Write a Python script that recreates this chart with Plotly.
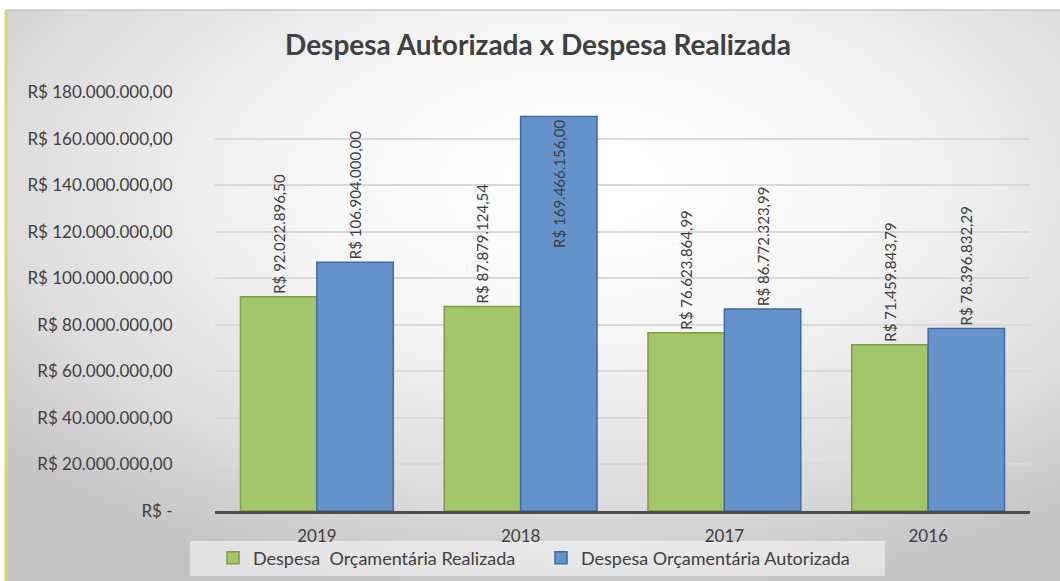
import base64
import plotly.graph_objects as go

# ---- data ----
years = ["2019", "2018", "2017", "2016"]
realizada = [92022896.50, 87879124.54, 76623864.99, 71459843.79]
autorizada = [106904000.00, 169466156.00, 86772323.99, 78396832.29]
realizada_labels = ["R$ 92.022.896,50", "R$ 87.879.124,54", "R$ 76.623.864,99", "R$ 71.459.843,79"]
autorizada_labels = ["R$ 106.904.000,00", "R$ 169.466.156,00", "R$ 86.772.323,99", "R$ 78.396.832,29"]
tick_vals = [0, 20e6, 40e6, 60e6, 80e6, 100e6, 120e6, 140e6, 160e6, 180e6]
tick_text = ["R$ -", "R$ 20.000.000,00", "R$ 40.000.000,00", "R$ 60.000.000,00",
             "R$ 80.000.000,00", "R$ 100.000.000,00", "R$ 120.000.000,00",
             "R$ 140.000.000,00", "R$ 160.000.000,00", "R$ 180.000.000,00"]
name_realizada = "Despesa  Orçamentária Realizada"
name_autorizada = "Despesa Orçamentária Autorizada"
title_text = "Despesa Autorizada x Despesa Realizada"

W, H = 1060, 581
ML, MR, MT, MB = 215, 30, 92, 70
PW, PH = W - ML - MR, H - MT - MB

FONT = "Lato, 'Noto Sans', sans-serif"


def px_x(p):  # pixel -> paper x
    return (p - ML) / PW


def px_y(p):  # pixel (from top) -> paper y
    return (H - MB - p) / PH


# background radial gradient (svg data uri)
svg = f"""<svg xmlns='http://www.w3.org/2000/svg' width='{W}' height='{H}' viewBox='0 0 {W} {H}' preserveAspectRatio='none'>
<defs><radialGradient id='g' cx='0.55' cy='0.30' r='0.75' fx='0.55' fy='0.30'>
<stop offset='0' stop-color='#ffffff'/><stop offset='0.35' stop-color='#f7f7f7'/>
<stop offset='0.75' stop-color='#dcdcdc'/><stop offset='1' stop-color='#c2c2c2'/></radialGradient></defs>
<rect x='0' y='0' width='{W}' height='{H}' fill='url(#g)'/></svg>"""
bg_uri = "data:image/svg+xml;base64," + base64.b64encode(svg.encode()).decode()

fig = go.Figure()
fig.add_trace(go.Bar(
    name=name_realizada, x=years, y=realizada,
    marker=dict(color="rgb(164,198,106)", line=dict(color="#7d9e42", width=1.5)),
    text=realizada_labels, textposition="outside", textangle=-90,
    textfont=dict(family=FONT, size=15, color="#404040"),
    constraintext="none", cliponaxis=False,
))
fig.add_trace(go.Bar(
    name=name_autorizada, x=years, y=autorizada,
    marker=dict(color="rgb(102,146,204)", line=dict(color="#3f6aa3", width=1.5)),
    text=autorizada_labels, textposition=["outside", "inside", "outside", "outside"],
    insidetextanchor="end", textangle=-90,
    textfont=dict(family=FONT, size=15, color="#404040"),
    constraintext="none", cliponaxis=False,
))

fig.update_layout(
    width=W, height=H,
    margin=dict(l=ML, r=MR, t=MT, b=MB, autoexpand=False),
    paper_bgcolor="white",
    plot_bgcolor="rgba(255,255,255,0.45)",
    barmode="group", bargap=0.25, bargroupgap=0,
    font=dict(family=FONT, color="#595959", size=14),
    title=dict(text=title_text, x=538 / W, xanchor="center", y=1 - 45 / H, yanchor="middle",
               yref="container", font=dict(family=FONT, size=28, color="#404040", weight="bold")),
    legend=dict(orientation="h", x=px_x(213), xanchor="left", y=px_y(558),
                yanchor="middle", bgcolor="rgba(0,0,0,0)",
                font=dict(family=FONT, size=18, color="#404040"), traceorder="normal",
                itemwidth=30, entrywidth=283),
    showlegend=True,
    images=[dict(source=bg_uri, xref="paper", yref="paper",
                 x=px_x(6), y=px_y(10), sizex=(W - 6) / PW, sizey=(H - 10) / PH,
                 xanchor="left", yanchor="top", sizing="stretch", layer="below")],
    shapes=[
        dict(type="rect", xref="paper", yref="paper", x0=px_x(190), x1=px_x(885),
             y0=px_y(576), y1=px_y(541), fillcolor="rgba(255,255,255,0.5)",
             line=dict(width=0), layer="below"),
        dict(type="line", xref="paper", yref="paper", x0=px_x(6), x1=px_x(6),
             y0=px_y(10), y1=px_y(H), line=dict(color="#d6d67c", width=3)),
        dict(type="line", xref="paper", yref="paper", x0=px_x(6), x1=px_x(W),
             y0=px_y(10), y1=px_y(10), line=dict(color="#c8c8c8", width=1.5)),
    ],
)
fig.update_xaxes(showline=True, linecolor="#4d4d4d", linewidth=2.5, ticks="outside",
                 ticklen=8, tickcolor="rgba(0,0,0,0)", showgrid=False, automargin=False,
                 tickfont=dict(family=FONT, size=17, color="#404040"))
fig.update_yaxes(range=[0, 180e6], tickvals=tick_vals, ticktext=tick_text,
                 showgrid=True, gridcolor="#d9d9d9", gridwidth=2, zeroline=False, automargin=False,
                 ticks="outside", ticklen=38, tickcolor="rgba(0,0,0,0)",
                 tickfont=dict(family=FONT, size=17, color="#404040"))

fig.write_html("out.html", config={"displayModeBar": False},
               post_script="document.body.style.margin='0';")
